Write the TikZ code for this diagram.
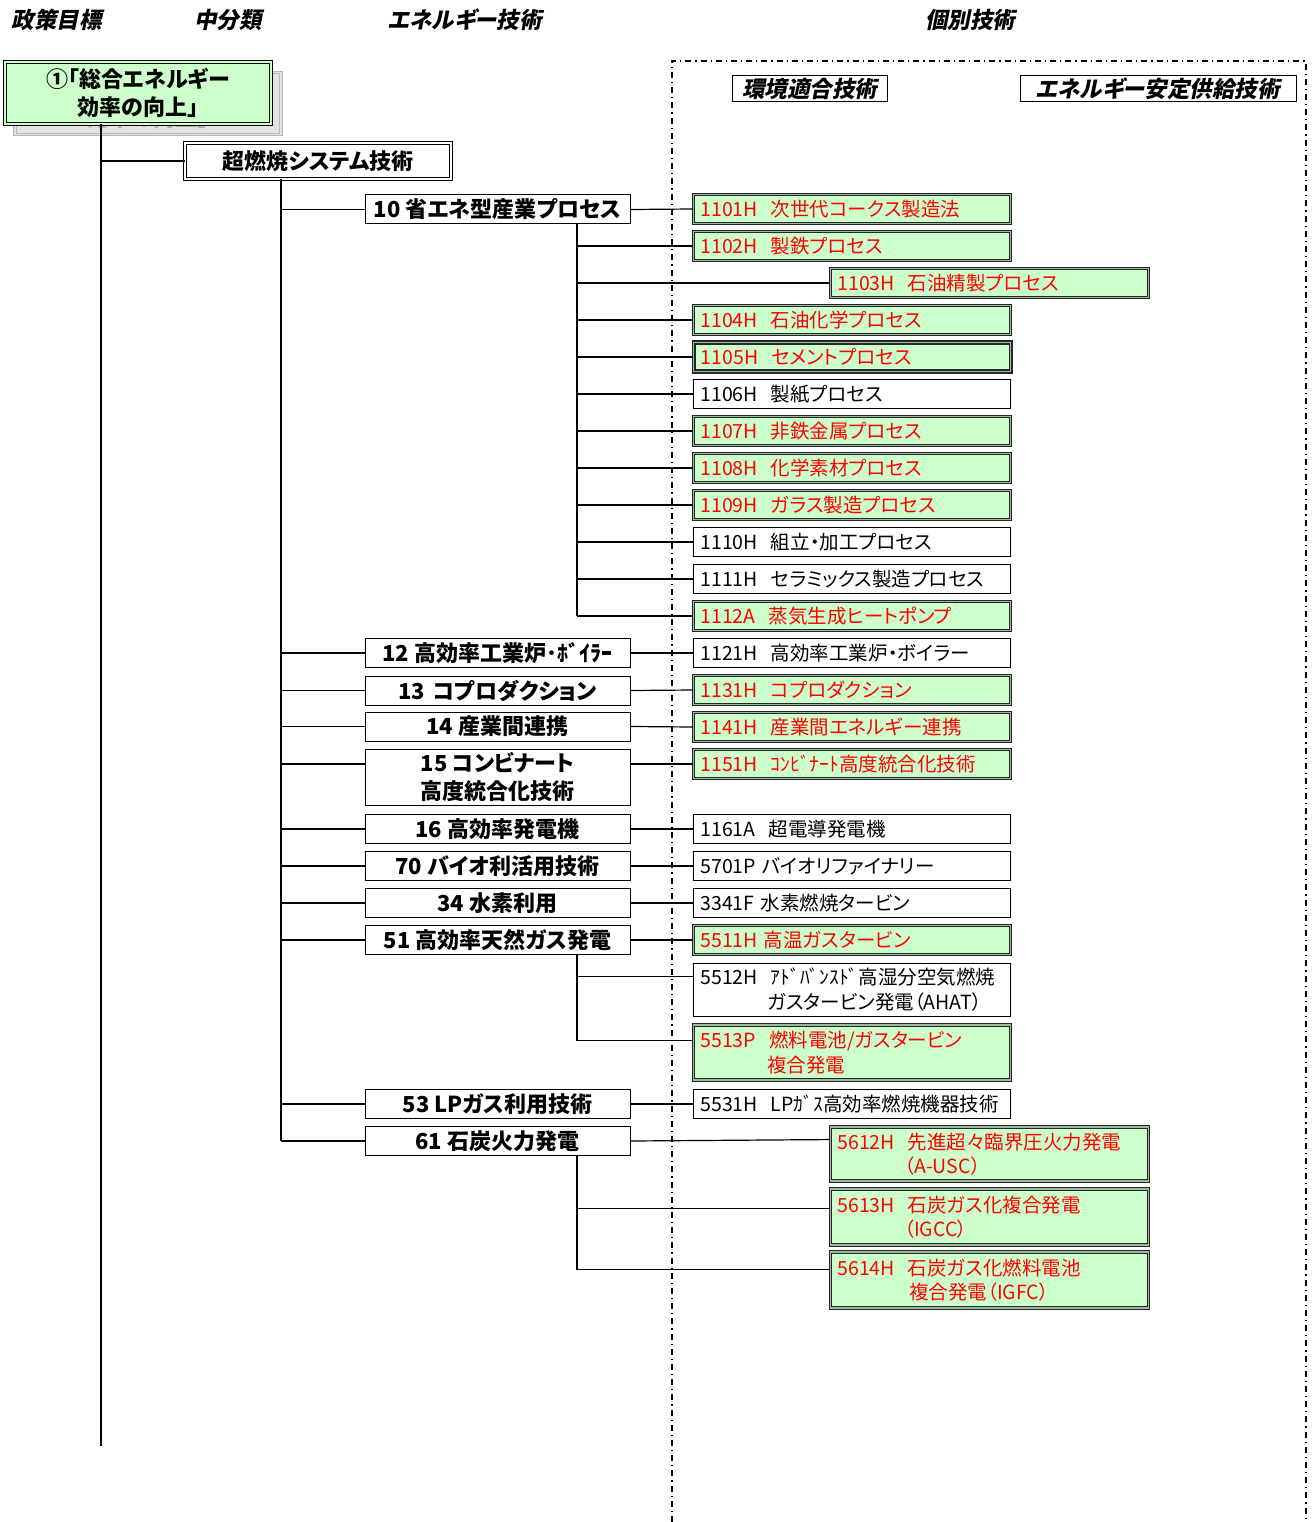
\documentclass[tikz,border=0pt]{standalone}
\usepackage{fontspec}
\setmainfont{Noto Sans CJK JP}[RawFeature=+palt]
\newfontfamily\jpsl{Noto Sans CJK JP}[RawFeature=+palt,FakeSlant=0.2,BoldFeatures={FakeSlant=0.2}]
\usetikzlibrary{calc}
\definecolor{lgreen}{HTML}{CCFFCC}
\definecolor{dgreen}{HTML}{99BB99}
\definecolor{tred}{HTML}{FF0000}
\newcommand{\rfont}{\fontsize{19.5}{24.5}\selectfont}
\newcommand{\cfont}{\fontsize{22}{28}\selectfont\bfseries}
\newcommand{\hfont}{\fontsize{22.5}{26}\selectfont\jpsl\bfseries}
\newcommand{\myspA}{\hspace{13pt}}
\newcommand{\myspB}{\hspace{6pt}}
\newcommand{\myind}{\\\hspace*{67pt}}
\tikzset{
  conn/.style={line width=1.2pt, black},
  hdr/.style={font=\hfont, inner sep=0pt},
  lblbox/.style={draw, line width=1pt, fill=white, font=\hfont, minimum height=26pt, inner sep=0pt},
  cbox/.style={draw, line width=1pt, fill=white, minimum width=265pt, minimum height=29pt, font=\cfont, inner sep=1pt, align=center},
  rbox/.style={draw, line width=1pt, fill=white, anchor=west, text width=303pt, inner xsep=7pt, inner ysep=1pt, minimum height=29pt, font=\rfont, align=left},
  gbox/.style={rbox, fill=lgreen, text=tred, draw=black!85, line width=0.9pt, double=dgreen, double distance=1.3pt},
  ddbox/.style={draw=black, line width=1pt, double=white, double distance=1.6pt, fill=white, font=\cfont, inner sep=0pt, align=center},
  frame/.style={line width=1.1pt, dash pattern=on 6pt off 4pt on 1.2pt off 4pt}
}
\begin{document}
\begin{tikzpicture}[x=1pt,y=-1pt]
\useasboundingbox (0,0) rectangle (1316,1522);
% headers
\node[hdr] (h1) at (57,20) {政策目標};
\node[hdr] (h2) at (228,20) {中分類};
\node[hdr] (h3) at (465,20) {エネルギー技術};
\node[hdr] (h4) at (970,20) {個別技術};
% dash-dot frame
\coordinate (fa) at (672,1522);
\coordinate (fb) at (672,61);
\coordinate (fc) at (1306,61);
\coordinate (fd) at (1306,1522);
\draw[frame] (fa) -- (fb) -- (fc) -- (fd);
\node[lblbox, minimum width=155pt] (lb1) at (809.5,89) {環境適合技術};
\node[lblbox, minimum width=276pt] (lb2) at (1158,89) {エネルギー安定供給技術};
% policy box with shadow
\node[ddbox, fill=gray!22, draw=gray!55, double=gray!22, minimum width=266pt, minimum height=62pt] (b1s) at (148,103.5) {};
\node[font=\cfont, text=gray!60, inner sep=0pt] (b1g) at (148,118) {効率の向上」};
\node[ddbox, fill=lgreen, double=lgreen, minimum width=266pt, minimum height=62pt] (b1) at (138,93) {①「総合エネルギー\\効率の向上」};
\node[ddbox, minimum width=266pt, minimum height=36pt] (b2) at (318,161) {超燃焼システム技術};
% trunk A
\coordinate (ta) at (101,124);
\coordinate (tae) at (101,1446);
\draw[conn] (ta) -- (tae);
\draw[conn] (ta |- b2.west) -- (b2.west);
% category boxes
\node[cbox] (b10) at (497.5,209.5) {10 省エネ型産業プロセス};
\node[cbox] (b12) at (497.5,653) {12 高効率工業炉･ﾎﾞｲﾗｰ};
\node[cbox] (b13) at (497.5,690.5) {13\hspace{8pt}コプロダクション};
\node[cbox] (b14) at (497.5,726.5) {14 産業間連携};
\node[cbox, minimum height=56pt] (b15) at (497.5,777) {15 コンビナート\\高度統合化技術};
\node[cbox] (b16) at (497.5,829) {16 高効率発電機};
\node[cbox] (b70) at (497.5,866) {70 バイオ利活用技術};
\node[cbox] (b34) at (497.5,903) {34 水素利用};
\node[cbox] (b51) at (497.5,940) {51 高効率天然ガス発電};
\node[cbox] (b53) at (497.5,1104) {53 LPガス利用技術};
\node[cbox] (b61) at (497.5,1141) {61 石炭火力発電};
% trunk B
\coordinate (tb) at (281,179);
\draw[conn] (tb) -- (tb |- b61.west);
\foreach \n in {b10,b12,b13,b14,b16,b70,b34,b51,b53,b61}{
  \draw[conn] (tb |- \n.west) -- (\n.west);
}
% right boxes
\node[gbox] (r1101) at (693,209) {1101H\myspA 次世代コークス製造法};
\node[gbox] (r1102) at (693,246) {1102H\myspA 製鉄プロセス};
\node[gbox, text width=304pt] (r1103) at (830,283) {1103H\myspA 石油精製プロセス};
\node[gbox] (r1104) at (693,320) {1104H\myspA 石油化学プロセス};
\node[gbox, line width=1.4pt] (r1105) at (693,357) {1105H\myspA セメントプロセス};
\node[rbox] (r1106) at (693,394) {1106H\myspA 製紙プロセス};
\node[gbox] (r1107) at (693,431) {1107H\myspA 非鉄金属プロセス};
\node[gbox] (r1108) at (693,468) {1108H\myspA 化学素材プロセス};
\node[gbox] (r1109) at (693,505) {1109H\myspA ガラス製造プロセス};
\node[rbox] (r1110) at (693,542) {1110H\myspA 組立・加工プロセス};
\node[rbox] (r1111) at (693,579) {1111H\myspA セラミックス製造プロセス};
\node[gbox] (r1112) at (693,616) {1112A\myspA 蒸気生成ヒートポンプ};
\node[rbox] (r1121) at (693,653) {1121H\myspA 高効率工業炉・ボイラー};
\node[gbox] (r1131) at (693,690) {1131H\myspA コプロダクション};
\node[gbox] (r1141) at (693,727) {1141H\myspA 産業間エネルギー連携};
\node[gbox] (r1151) at (693,764) {1151H\myspA ｺﾝﾋﾞﾅｰﾄ高度統合化技術};
\node[rbox] (r1161) at (693,829) {1161A\myspA 超電導発電機};
\node[rbox] (r5701) at (693,866) {5701P\myspB バイオリファイナリー};
\node[rbox] (r3341) at (693,903) {3341F\myspB 水素燃焼タービン};
\node[gbox] (r5511) at (693,940) {5511H\myspB 高温ガスタービン};
\node[rbox, minimum height=53pt] (r5512) at (693,989.5) {5512H\myspA ｱﾄﾞﾊﾞﾝｽﾄﾞ高湿分空気燃焼\myind ガスタービン発電（AHAT）};
\node[gbox, minimum height=55pt] (r5513) at (693,1052.5) {5513P\myspA 燃料電池/ガスタービン\myind 複合発電};
\node[rbox] (r5531) at (693,1104) {5531H\myspA LPｶﾞｽ高効率燃焼機器技術};
\node[gbox, minimum height=54pt, text width=304pt] (r5612) at (830,1154) {5612H\myspA 先進超々臨界圧火力発電\myind （A-USC）};
\node[gbox, minimum height=56pt, text width=304pt] (r5613) at (830,1217) {5613H\myspA 石炭ガス化複合発電\myind （IGCC）};
\node[gbox, minimum height=56pt, text width=304pt] (r5614) at (830,1280) {5614H\myspA 石炭ガス化燃料電池\\\hspace*{72pt}複合発電（IGFC）};
% connectors to right boxes
\draw[conn] (b10.east) -- (r1101.west);
\coordinate (t10) at (577,224);
\draw[conn] (t10) -- (t10 |- r1112.west);
\foreach \n in {r1102,r1103,r1104,r1105,r1106,r1107,r1108,r1109,r1110,r1111,r1112}{
  \draw[conn] (t10 |- \n.west) -- (\n.west);
}
\foreach \a/\b in {b12/r1121,b13/r1131,b14/r1141,b16/r1161,b70/r5701,b34/r3341,b51/r5511,b53/r5531}{
  \draw[conn] (\a.east) -- (\b.west);
}
\draw[conn] (tb |- r1151.west) -- (b15.west |- r1151.west);
\draw[conn] (b15.east |- r1151.west) -- (r1151.west);
\coordinate (t51) at (577,954);
\coordinate (c5512) at ($(r5512.north west)+(0,14)$);
\coordinate (c5513) at ($(r5513.north west)+(0,16)$);
\draw[conn] (t51) -- (t51 |- c5513);
\draw[conn] (t51 |- c5512) -- (c5512);
\draw[conn] (t51 |- c5513) -- (c5513);
\coordinate (c5612) at ($(r5612.north west)+(0,13)$);
\draw[conn] (b61.east) -- (c5612);
\coordinate (t61) at (577,1155);
\coordinate (c5613) at ($(r5613.north west)+(0,20)$);
\coordinate (c5614) at ($(r5614.north west)+(0,18)$);
\draw[conn] (t61) -- (t61 |- c5614);
\draw[conn] (t61 |- c5613) -- (c5613);
\draw[conn] (t61 |- c5614) -- (c5614);
\end{tikzpicture}
\end{document}
